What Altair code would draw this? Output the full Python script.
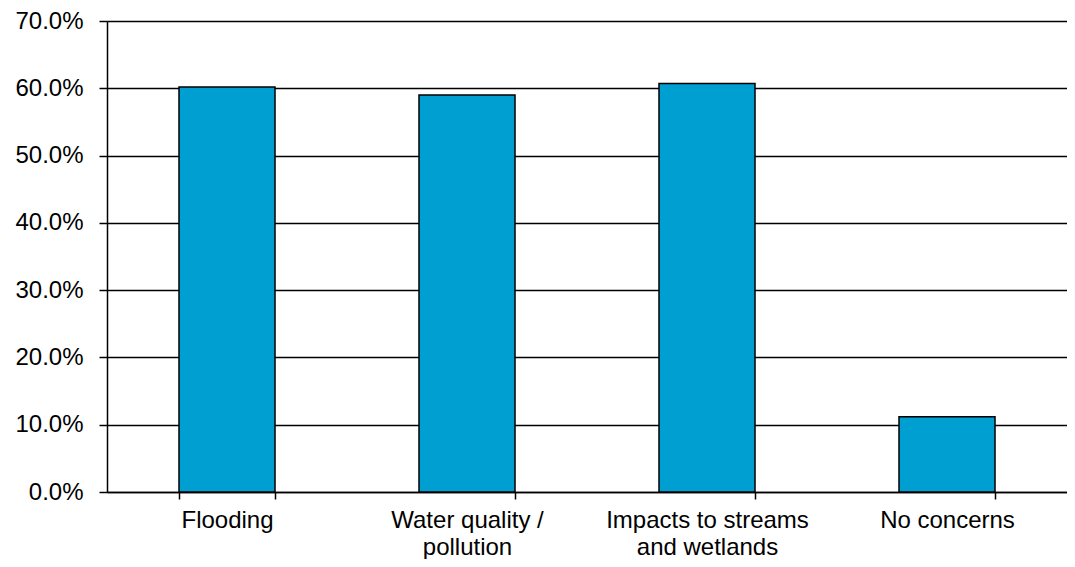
import altair as alt
import pandas as pd

categories = ["Flooding", "Water quality /|pollution", "Impacts to streams|and wetlands", "No concerns"]
values = [0.602, 0.590, 0.607, 0.112]

df = pd.DataFrame({"category": categories, "value": values})

FONT = "Liberation Sans"

bars = alt.Chart(df).mark_bar(
    color="#009FD1", stroke="#000000", strokeWidth=1.5
).encode(
    x=alt.X(
        "category:N",
        sort=categories,
        title=None,
        scale=alt.Scale(paddingInner=0.6, paddingOuter=0.3),
        axis=alt.Axis(
            labelAngle=0,
            labelExpr="split(datum.label, '|')",
            labelFont=FONT,
            labelFontSize=24,
            labelColor="#000000",
            labelLineHeight=27,
            labelPadding=9,
            labelLimit=400,
            tickBand="extent",
            tickSize=7,
            tickColor="#000000",
            tickWidth=1.5,
            domainColor="#000000",
            domainWidth=1.5,
            grid=False,
        ),
    ),
    y=alt.Y(
        "value:Q",
        title=None,
        scale=alt.Scale(domain=[0, 0.7], nice=False),
        axis=alt.Axis(
            values=[0, 0.1, 0.2, 0.3, 0.4, 0.5, 0.6, 0.7],
            format=".1%",
            labelFont=FONT,
            labelFontSize=24,
            labelColor="#000000",
            labelPadding=16,
            tickSize=8,
            tickColor="#000000",
            tickWidth=1.5,
            domainColor="#000000",
            domainWidth=1.5,
            grid=True,
            gridColor="#000000",
            gridWidth=1.5,
            gridOpacity=1,
        ),
    ),
)

chart = bars.properties(
    width=960,
    height=471,
    autosize=alt.AutoSizeParams(type="none"),
    padding={"left": 99, "top": 13, "right": 0, "bottom": 67},
    background="#ffffff",
).configure_view(stroke=None)

chart.save("out.html", embed_options={"renderer": "svg", "actions": False})
